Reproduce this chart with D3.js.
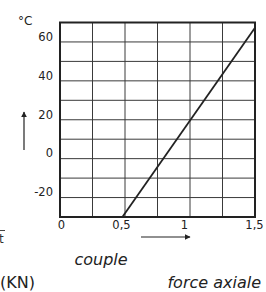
<!DOCTYPE html>
<html>
<head>
<meta charset="utf-8">
<script src="https://cdn.jsdelivr.net/npm/d3@7"></script>
<style>
  html, body { margin: 0; padding: 0; background: #fff; }
  svg { display: block; font-family: 'DejaVu Sans', sans-serif; }
</style>
</head>
<body>
<div id="chart"></div>
<script>
const xTicks = [0, 0.5, 1, 1.5]
const xTickLabels = ['0', '0,5', '1', '1,5']
const yTicks = [-20, 0, 20, 40, 60]
const yTickLabels = ['-20', '0', '20', '40', '60']
const xGrid = [0, 0.25, 0.5, 0.75, 1, 1.25, 1.5]
const yGrid = [-30, -20, -10, 0, 10, 20, 30, 40, 50, 60, 70]
const lineX = [0.48, 1.5]
const lineY = [-30, 67.3]

const width = 266
const height = 292
const margin = { left: 60, top: 22.5, right: 11, bottom: 75 }

const svg = d3.select('#chart')
  .append('svg')
  .attr('width', width)
  .attr('height', height)

const xScale = d3.scaleLinear()
  .domain([0, 1.5])
  .range([margin.left, width - margin.right])

const yScale = d3.scaleLinear()
  .domain([-30, 70])
  .range([height - margin.bottom, margin.top])

// grid
svg.append('g')
  .selectAll('line')
  .data(xGrid)
  .join('line')
  .attr('x1', d => xScale(d))
  .attr('x2', d => xScale(d))
  .attr('y1', yScale(70))
  .attr('y2', yScale(-30))
  .attr('stroke', '#3a3a3a')
  .attr('stroke-width', 1)

svg.append('g')
  .selectAll('line')
  .data(yGrid)
  .join('line')
  .attr('x1', xScale(0))
  .attr('x2', xScale(1.5))
  .attr('y1', d => yScale(d))
  .attr('y2', d => yScale(d))
  .attr('stroke', '#3a3a3a')
  .attr('stroke-width', 1)

// frame
svg.append('rect')
  .attr('x', xScale(0))
  .attr('y', yScale(70))
  .attr('width', xScale(1.5) - xScale(0))
  .attr('height', yScale(-30) - yScale(70))
  .attr('fill', 'none')
  .attr('stroke', '#222')
  .attr('stroke-width', 2)

// data line
const points = lineX.map((x, i) => ({ x, y: lineY[i] }))
svg.append('path')
  .datum(points)
  .attr('fill', 'none')
  .attr('stroke', '#222')
  .attr('stroke-width', 1.8)
  .attr('d', d3.line().x(d => xScale(d.x)).y(d => yScale(d.y)))

// y tick labels
const yAxis = d3.axisLeft(yScale)
  .tickValues(yTicks)
  .tickFormat((_, i) => yTickLabels[i])
  .tickSize(0)
  .tickPadding(7)
const yAxisG = svg.append('g')
  .attr('transform', `translate(${xScale(0)},0)`)
  .call(yAxis)
yAxisG.select('.domain').remove()
yAxisG.selectAll('text')
  .attr('font-size', 11.5)
  .attr('font-family', 'DejaVu Sans, sans-serif')
  .attr('fill', '#222')
  .attr('dy', '-0.15em')

// x tick labels
const xOffsets = [1, -4, -6, -1]
const xAxis = d3.axisBottom(xScale)
  .tickValues(xTicks)
  .tickFormat((_, i) => xTickLabels[i])
  .tickSize(0)
  .tickPadding(4)
const xAxisG = svg.append('g')
  .attr('transform', `translate(0,${yScale(-30)})`)
  .call(xAxis)
xAxisG.select('.domain').remove()
xAxisG.selectAll('text')
  .attr('font-size', 11.5)
  .attr('font-family', 'DejaVu Sans, sans-serif')
  .attr('fill', '#222')
  .attr('dx', (_, i) => xOffsets[i])

// arrows
const defs = svg.append('defs')
defs.append('marker')
  .attr('id', 'arrow')
  .attr('viewBox', '0 0 10 10')
  .attr('refX', 9)
  .attr('refY', 5)
  .attr('markerWidth', 6)
  .attr('markerHeight', 6)
  .attr('markerUnits', 'userSpaceOnUse')
  .attr('orient', 'auto')
  .append('path')
  .attr('d', 'M0,0L10,5L0,10Z')
  .attr('fill', '#222')

svg.append('line')
  .attr('x1', 24).attr('y1', 150)
  .attr('x2', 24).attr('y2', 112)
  .attr('stroke', '#222')
  .attr('stroke-width', 1.2)
  .attr('marker-end', 'url(#arrow)')

svg.append('line')
  .attr('x1', 141).attr('y1', 237)
  .attr('x2', 190).attr('y2', 237)
  .attr('stroke', '#222')
  .attr('stroke-width', 1.2)
  .attr('marker-end', 'url(#arrow)')

// labels
svg.append('text')
  .attr('x', 18).attr('y', 25)
  .attr('font-size', 12)
  .attr('fill', '#222')
  .text('°C')

svg.append('line')
  .attr('x1', 0).attr('x2', 5)
  .attr('y1', 230.5).attr('y2', 230.5)
  .attr('stroke', '#444')
  .attr('stroke-width', 1)

svg.append('text')
  .attr('x', -1).attr('y', 243)
  .attr('font-size', 12)
  .attr('fill', '#333')
  .text('t')

svg.append('text')
  .attr('x', 101).attr('y', 265)
  .attr('text-anchor', 'middle')
  .attr('font-size', 16)
  .attr('font-style', 'italic')
  .attr('fill', '#222')
  .text('couple')

svg.append('text')
  .attr('x', 0).attr('y', 288)
  .attr('font-size', 16)
  .attr('fill', '#222')
  .text('(KN)')

svg.append('text')
  .attr('x', 261).attr('y', 288)
  .attr('text-anchor', 'end')
  .attr('font-size', 16)
  .attr('font-style', 'italic')
  .attr('fill', '#222')
  .text('force axiale')
</script>
</body>
</html>
